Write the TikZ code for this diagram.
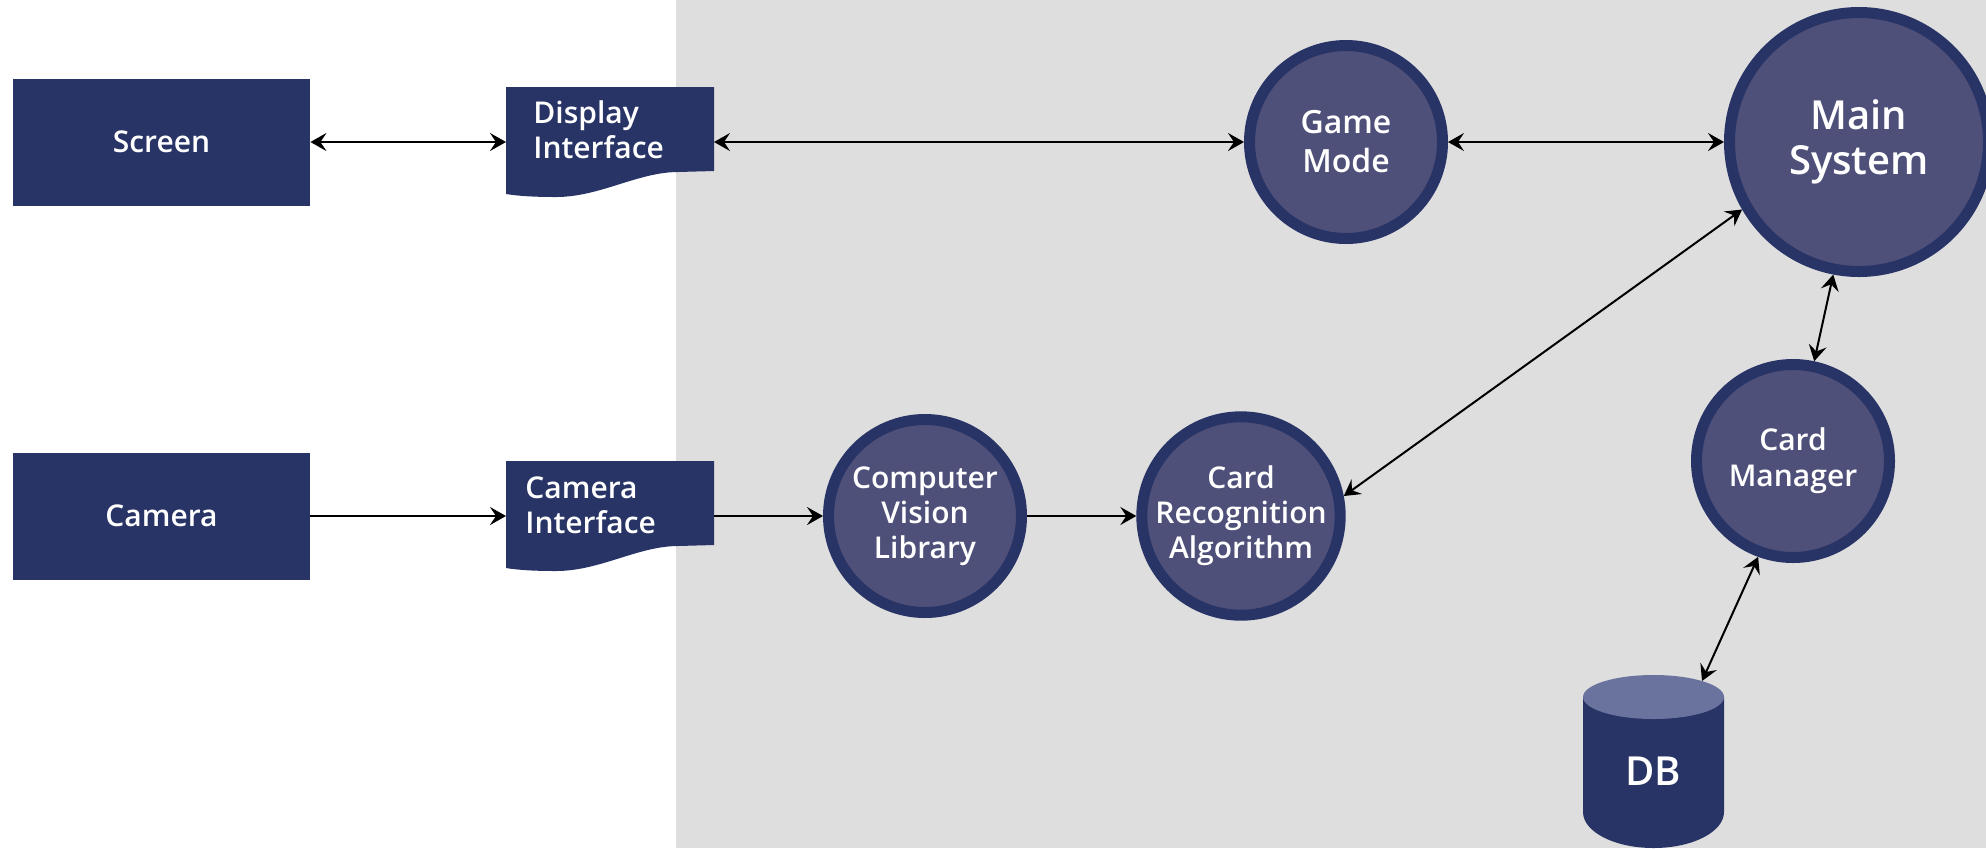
\documentclass[tikz,border=0pt]{standalone}
\usepackage{fontspec}
\setmainfont{Open Sans}[BoldFont={Open Sans Semibold}]
\usetikzlibrary{arrows.meta,calc}
\definecolor{navy}{RGB}{40,51,102}
\definecolor{procfill}{RGB}{78,80,121}
\definecolor{bggrey}{RGB}{222,222,222}
\definecolor{dbtopc}{RGB}{106,115,158}
\begin{document}
\begin{tikzpicture}[x=0.5pt,y=-0.5pt,
  lbl/.style={text=white, font=\bfseries\fontsize{15}{17.5}\selectfont, inner sep=0pt},
  ext/.style={lbl, fill=navy, minimum width=148.5pt, minimum height=63.5pt},
  proc/.style={lbl, circle, fill=procfill, draw=navy, line width=5.5pt, minimum size=96.5pt, align=center},
  docbox/.style={minimum width=104pt, minimum height=55pt, inner sep=0pt, outer sep=0pt},
  tip/.tip={Stealth[length=8pt,width=9pt,inset=3pt]},
  link/.style={line width=1pt, tip-tip},
  flow/.style={line width=1pt, -tip}
]
\useasboundingbox (0,0) rectangle (1986,848);
\fill[bggrey] (676,0) rectangle (1986,848);

% external entities
\node[ext] (screen) at (161.5,142) {Screen};
\node[ext] (camera) at (161.5,516) {Camera};

% document-shaped interfaces
\node[docbox] (di) at (610,142) {};
\node[docbox] (ci) at (610,516) {};
\foreach \n in {di,ci} {
  \fill[navy] (\n.north west) -- (\n.north east) -- ($(\n.north east)+(0,84)$)
    -- ($(\n.north east)+(-36,85)$)
    .. controls ($(\n.north east)+(-76,85)$) and ($(\n.north east)+(-114,110)$) .. ($(\n.north east)+(-158,110)$)
    .. controls ($(\n.north east)+(-180,110)$) and ($(\n.north east)+(-196,109)$) .. ($(\n.north west)+(0,107)$)
    -- cycle;
}
\node[lbl, align=left, anchor=north west] (dit) at (533,100) {Display\\Interface};
\node[lbl, align=left, anchor=north west] (cit) at (525,476) {Camera\\Interface};

% processes
\node[proc, font=\bfseries\fontsize{16}{19.5}\selectfont] (gm) at (1346,142) {Game\\Mode};
\node[proc, minimum size=129.5pt, font=\bfseries\fontsize{20}{22.5}\selectfont] (ms) at (1859,142) {Main\\System};
\node[proc] (cv) at (925,516) {Computer\\Vision\\Library};
\node[proc] (cra) at (1241,516) {Card\\Recognition\\Algorithm};
\node[proc, font=\bfseries\fontsize{15}{18}\selectfont] (cm) at (1793,461) {Card\\Manager};

% database
\fill[navy] (1583,697) -- (1583,812) arc[start angle=180,end angle=360,x radius=35.25pt,y radius=18pt] -- (1724,697) -- cycle;
\fill[dbtopc] (1653.5,697) ellipse[x radius=35.25pt, y radius=11pt];
\node[lbl, font=\bfseries\fontsize{20}{24}\selectfont] (db) at (1653,771) {DB};
\coordinate (dbin) at (1702,681);

% connectors
\draw[link] (screen) -- (di);
\draw[link] (di) -- (gm);
\draw[link] (gm) -- (ms);
\draw[link] (ms.210) -- (cra.11);
\draw[link] (ms.259) -- (cm.78);
\draw[link] (cm.250) -- (dbin);
\draw[flow] (camera) -- (ci);
\draw[flow] (ci) -- (cv);
\draw[flow] (cv) -- (cra);
\end{tikzpicture}
\end{document}
